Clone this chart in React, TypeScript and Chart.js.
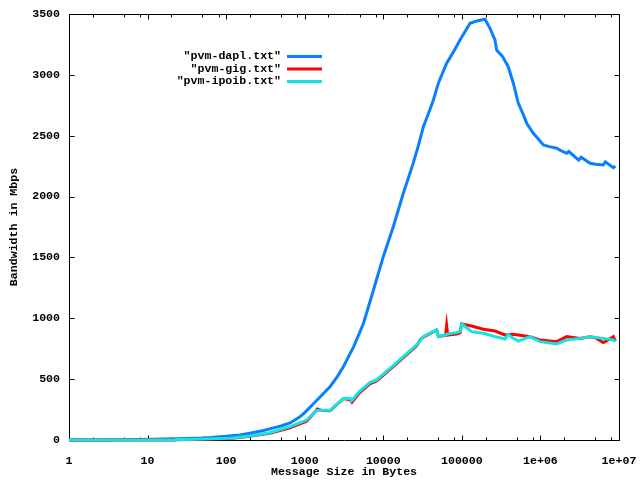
import React, { useEffect, useRef } from "react";
import { Chart, registerables } from "chart.js";

Chart.register(...registerables);

const FONT = "'Liberation Mono', 'DejaVu Sans Mono', monospace";

const xTickValues = [1, 10, 100, 1000, 10000, 100000, 1000000, 10000000];
const xTickLabels = ["1", "10", "100", "1000", "10000", "100000", "1e+06", "1e+07"];
const xMinorMantissas = [2, 5, 8];
const yTickValues = [0, 500, 1000, 1500, 2000, 2500, 3000, 3500];

const seriesNames = ['"pvm-dapl.txt"', '"pvm-gig.txt"', '"pvm-ipoib.txt"'];
const seriesColors = ["#0a80ff", "#ff0000", "#10e4e4"];

const dapSizes = [1, 2, 4, 8, 12, 16, 24, 32, 48, 64, 100, 150, 200, 300, 400, 500, 650, 870, 1000, 1300, 1600, 2100, 2600, 3100, 4200, 5600, 7500, 10000, 13400, 18000, 24000, 28000, 32400, 38000, 43400, 47000, 50200, 64100, 80000, 94700, 127000, 155000, 197000, 228000, 264000, 277000, 330000, 389000, 452000, 523000, 600000, 669000, 813000, 1090000, 1300000, 1610000, 1800000, 2160000, 2300000, 3070000, 3300000, 4280000, 5000000, 6300000, 6700000, 8470000, 9000000];
const dapMbps = [0.5, 1, 2, 4, 6, 8, 11, 13, 16, 20, 30, 42, 55, 78, 100, 115, 140, 190, 225, 300, 360, 438, 520, 602, 767, 959, 1232, 1506, 1752, 2027, 2273, 2420, 2574, 2690, 2794, 2870, 2931, 3095, 3200, 3287, 3424, 3443, 3457, 3382, 3287, 3204, 3150, 3067, 2931, 2766, 2680, 2602, 2520, 2424, 2410, 2397, 2380, 2356, 2370, 2300, 2323, 2273, 2265, 2260, 2285, 2237, 2250];

const gigSizes = [1, 2, 4, 8, 16, 22, 24, 32, 48, 64, 112, 200, 360, 650, 1060, 1170, 1450, 1600, 2100, 3100, 3800, 4000, 5000, 6760, 8240, 12200, 18000, 26600, 30000, 32400, 47900, 50200, 62000, 64000, 66000, 85900, 94700, 99600, 133000, 188000, 264000, 354000, 440000, 523000, 737000, 988000, 1610000, 2160000, 3190000, 4280000, 5000000, 6310000, 7000000, 8470000, 9000000];
const gigMbps = [0, 0, 0, 0, 0, 0, 3, 4, 7, 9, 13, 30, 55, 100, 155, 185, 255, 245, 240, 340, 330, 310, 390, 462, 485, 580, 676, 775, 830, 845, 904, 850, 860, 940, 862, 870, 880, 953, 937, 910, 895, 863, 868, 863, 849, 822, 808, 849, 835, 849, 840, 800, 815, 849, 810];

const ipoibSizes = [1, 2, 4, 8, 16, 22, 24, 32, 48, 64, 112, 200, 360, 650, 1060, 1170, 1400, 1560, 2100, 3100, 3800, 3960, 5000, 6760, 8240, 12200, 18000, 26600, 32400, 40000, 47900, 50200, 70300, 85900, 94700, 99600, 133000, 188000, 264000, 354000, 389000, 440000, 523000, 737000, 988000, 1610000, 2160000, 3190000, 4280000, 6310000, 8470000, 9000000];
const ipoibMbps = [0, 0, 0, 0, 0, 0, 4, 5, 8, 10, 14, 33, 60, 110, 164, 191, 240, 244, 244, 340, 340, 323, 400, 471, 493, 589, 685, 781, 849, 880, 904, 849, 875, 882, 890, 953, 890, 877, 849, 830, 868, 840, 813, 849, 808, 789, 822, 835, 849, 835, 822, 810];

const toPoints = (xs: number[], ys: number[]) => xs.map((x, i) => ({ x, y: ys[i] }));

const zeroPad = (s: any) => {
  s.paddingLeft = 0;
  s.paddingRight = 0;
  s.paddingTop = 0;
  s.paddingBottom = 0;
};

export default function App() {
  const ref = useRef<HTMLCanvasElement>(null);

  useEffect(() => {
    const canvas = ref.current;
    if (!canvas) return;

    const frame = {
      id: "gnuframe",
      beforeDatasetsDraw(chart: any) {
        const { ctx, chartArea } = chart;
        const xs = chart.scales.x;
        const ys = chart.scales.y;
        const L = Math.round(chartArea.left) + 0.5;
        const R = Math.round(chartArea.right) + 0.5;
        const T = Math.round(chartArea.top) + 0.5;
        const B = Math.round(chartArea.bottom) + 0.5;
        ctx.save();
        ctx.strokeStyle = "#000";
        ctx.lineWidth = 1;
        ctx.beginPath();
        ctx.rect(L, T, R - L, B - T);
        xTickValues.forEach((v) => {
          const px = Math.round(xs.getPixelForValue(v)) + 0.5;
          ctx.moveTo(px, B);
          ctx.lineTo(px, B - 5);
          ctx.moveTo(px, T);
          ctx.lineTo(px, T + 5);
        });
        for (let k = 0; k < 7; k++) {
          xMinorMantissas.forEach((m) => {
            const v = m * Math.pow(10, k);
            const px = Math.round(xs.getPixelForValue(v)) + 0.5;
            ctx.moveTo(px, B);
            ctx.lineTo(px, B - 3);
            ctx.moveTo(px, T);
            ctx.lineTo(px, T + 3);
          });
        }
        yTickValues.forEach((v) => {
          const py = Math.round(ys.getPixelForValue(v)) + 0.5;
          ctx.moveTo(L, py);
          ctx.lineTo(L + 5, py);
          ctx.moveTo(R, py);
          ctx.lineTo(R - 5, py);
        });
        ctx.stroke();
        ctx.restore();
      },
      afterDraw(chart: any) {
        const { ctx } = chart;
        ctx.save();
        ctx.font = `bold 11.6px ${FONT}`;
        ctx.fillStyle = "#000";
        ctx.textAlign = "right";
        ctx.textBaseline = "middle";
        const rows = [56.5, 69, 81.5];
        rows.forEach((y, i) => {
          ctx.fillText(seriesNames[i], 281, y);
          ctx.strokeStyle = seriesColors[i];
          ctx.lineWidth = 3;
          ctx.beginPath();
          ctx.moveTo(287, y);
          ctx.lineTo(322, y);
          ctx.stroke();
        });
        ctx.restore();
      },
    };

    const font = { family: FONT, size: 11.6, weight: "bold" as const };

    const chart = new Chart(canvas, {
      type: "line",
      data: {
        datasets: [
          { label: seriesNames[0], data: toPoints(dapSizes, dapMbps), borderColor: seriesColors[0], order: 2 },
          { label: seriesNames[1], data: toPoints(gigSizes, gigMbps), borderColor: seriesColors[1], order: 1 },
          { label: seriesNames[2], data: toPoints(ipoibSizes, ipoibMbps), borderColor: seriesColors[2], order: 0 },
        ] as any,
      },
      options: {
        animation: false,
        responsive: false,
        layout: { padding: { left: 0, right: 21, top: 14, bottom: 0 } },
        plugins: { legend: { display: false }, tooltip: { enabled: false } },
        elements: {
          point: { radius: 0 },
          line: { tension: 0, borderWidth: 3, borderJoinStyle: "miter" as any, fill: false },
        },
        datasets: { line: { clip: false as any } },
        scales: {
          x: {
            type: "logarithmic",
            min: 1,
            max: 10000000,
            position: "bottom",
            afterBuildTicks: (s: any) => {
              s.ticks = xTickValues.map((v) => ({ value: v }));
            },
            afterFit: (s: any) => {
              s.height = 40;
              zeroPad(s);
            },
            grid: { display: false, drawTicks: false },
            border: { display: false },
            ticks: {
              autoSkip: false,
              maxRotation: 0,
              minRotation: 0,
              padding: 14,
              color: "#000",
              font,
              callback: (_v: any, i: number) => xTickLabels[i],
            },
            title: {
              display: true,
              text: "Message Size in Bytes",
              color: "#000",
              font,
              padding: { top: 0, bottom: 1 },
            },
          },
          y: {
            type: "linear",
            min: 0,
            max: 3500,
            afterBuildTicks: (s: any) => {
              s.ticks = yTickValues.map((v) => ({ value: v }));
            },
            afterFit: (s: any) => {
              s.width = 69;
              zeroPad(s);
            },
            grid: { display: false, drawTicks: false },
            border: { display: false },
            ticks: {
              padding: 9,
              color: "#000",
              font,
              callback: (v: any) => String(v),
            },
            title: {
              display: true,
              text: "Bandwidth in Mbps",
              color: "#000",
              font,
              padding: { top: 7, bottom: 0 },
            },
          },
        },
      } as any,
      plugins: [frame],
    });

    return () => chart.destroy();
  }, []);

  return (
    <div style={{ position: "fixed", left: 0, top: 0, width: 640, height: 480, background: "#fff" }}>
      <canvas ref={ref} width={640} height={480} style={{ display: "block" }} />
    </div>
  );
}
